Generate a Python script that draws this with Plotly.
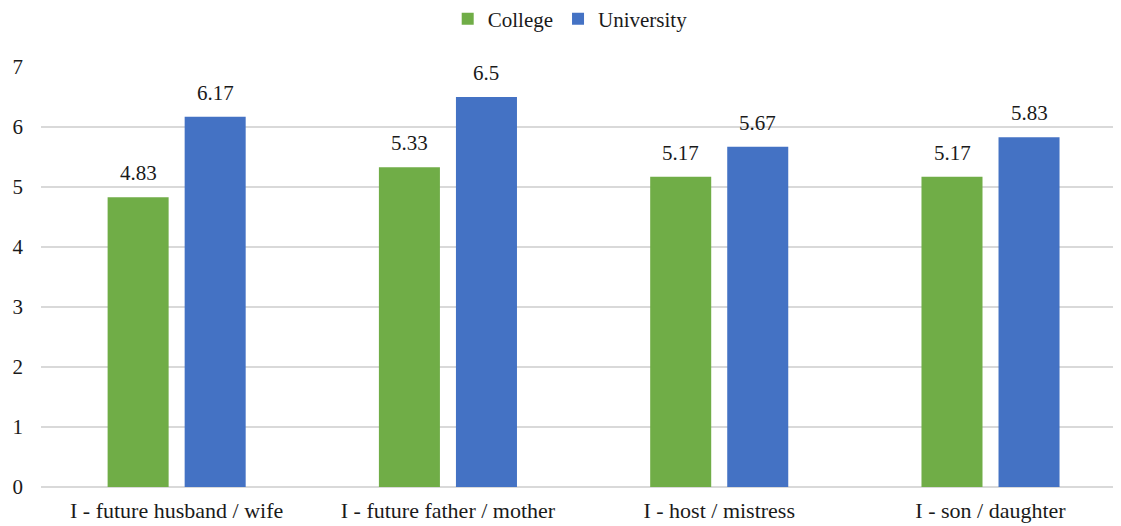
import plotly.graph_objects as go

categories = ["I - future husband / wife", "I - future father / mother", "I - host / mistress", "I - son / daughter"]
series_names = ["College", "University"]
college = [4.83, 5.33, 5.17, 5.17]
university = [6.17, 6.5, 5.67, 5.83]
college_labels = ["4.83", "5.33", "5.17", "5.17"]
university_labels = ["6.17", "6.5", "5.67", "5.83"]
colors = ["#70AD47", "#4472C4"]

font = "Liberation Serif"
txt = "#1a1a1a"

fig = go.Figure()
for name, vals, col in zip(series_names, [college, university], colors):
    fig.add_trace(go.Bar(name=name, x=categories, y=vals, marker_color=col, marker_line_width=0))

annotations = []
for vals, labels, shift in [(college, college_labels, -38.5), (university, university_labels, 38.5)]:
    for c, v, t in zip(categories, vals, labels):
        annotations.append(dict(x=c, y=v, text=t, showarrow=False, xref="x", yref="y",
                                xanchor="center", yanchor="bottom", xshift=shift, yshift=10,
                                font=dict(family=font, size=21, color=txt)))

# the page body has an 8px margin, so the figure is sized to fit inside the window
fig.update_layout(
    width=1113, height=518,
    barmode="group", bargap=0.432, bargroupgap=0.208,
    plot_bgcolor="white", paper_bgcolor="white",
    margin=dict(l=33, r=0, t=59, b=39, autoexpand=False),
    font=dict(family=font, size=21, color=txt),
    legend=dict(orientation="h", x=0.49, xanchor="center", y=1.114, yanchor="middle",
                yref="paper", font=dict(family=font, size=21, color=txt),
                traceorder="normal", itemwidth=30, tracegroupgap=0,
                bgcolor="rgba(0,0,0,0)"),
    showlegend=True,
    annotations=annotations,
)
fig.update_xaxes(showgrid=False, showline=False, ticks="", range=[-0.5, 3.481],
                 tickfont=dict(family=font, size=22, color=txt), ticklabelstandoff=8,
                 automargin=False)
fig.update_yaxes(range=[0, 7], dtick=1, showgrid=True, gridcolor="#D9D9D9", gridwidth=1.5,
                 zeroline=True, zerolinecolor="#D9D9D9", zerolinewidth=1.5,
                 showline=False, ticks="", tickfont=dict(family=font, size=21, color=txt),
                 ticklabelstandoff=17, automargin=False)

fig.write_html("out.html")
